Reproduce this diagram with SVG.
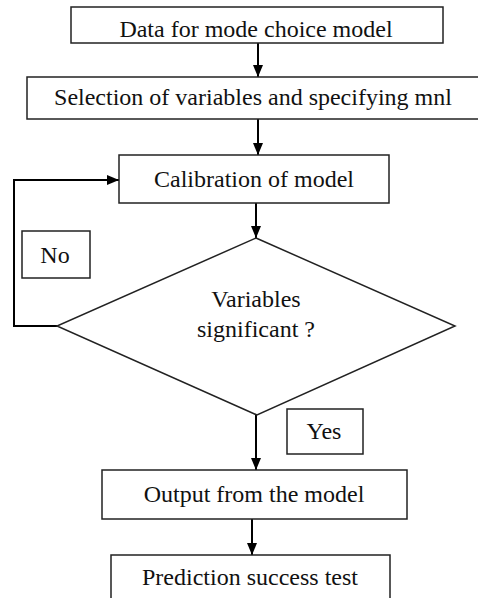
<svg xmlns="http://www.w3.org/2000/svg" width="478" height="598" viewBox="0 0 478 598">
<defs>
<style>
.box{fill:#fff;stroke:#222;stroke-width:1.5}
.t{font-family:"Liberation Serif","Times New Roman",serif;font-size:24px;fill:#111;text-anchor:middle}
.c{fill:none;stroke:#000;stroke-width:2}
</style>
<marker id="ah" markerWidth="12" markerHeight="10" refX="12" refY="5" orient="auto" markerUnits="userSpaceOnUse">
<path d="M0,0 L12,5 L0,10 Z" fill="#000"/>
</marker>
</defs>
<rect width="478" height="598" fill="#fff"/>
<g id="connectors">
<line class="c" x1="258" y1="43" x2="258" y2="77" marker-end="url(#ah)"/>
<line class="c" x1="258" y1="119" x2="258" y2="155" marker-end="url(#ah)"/>
<line class="c" x1="256" y1="203" x2="256" y2="238" marker-end="url(#ah)"/>
<polyline class="c" points="57,326 14,326 14,180 119,180" marker-end="url(#ah)"/>
<line class="c" x1="256" y1="415" x2="256" y2="470" marker-end="url(#ah)"/>
<line class="c" x1="252" y1="519" x2="252" y2="555" marker-end="url(#ah)"/>
</g>
<g id="n1"><rect class="box" x="71" y="7" width="372" height="36"/><text class="t" x="256" y="37">Data for mode choice model</text></g>
<g id="n2"><rect class="box" x="27" y="77" width="452" height="42"/><text class="t" x="253" y="105">Selection of variables and specifying mnl</text></g>
<g id="n3"><rect class="box" x="119" y="155" width="270" height="48"/><text class="t" x="254" y="187">Calibration of model</text></g>
<g id="n4"><polygon class="box" points="256,238 455,326 257,415 57,326"/><text class="t" x="256" y="307">Variables</text><text class="t" x="256" y="337">significant ?</text></g>
<g id="lno"><rect class="box" x="22" y="231" width="68" height="47"/><text class="t" x="55" y="263">No</text></g>
<g id="lyes"><rect class="box" x="287" y="409" width="76" height="45"/><text class="t" x="324" y="439">Yes</text></g>
<g id="n5"><rect class="box" x="102" y="470" width="305" height="49"/><text class="t" x="254" y="502">Output from the model</text></g>
<g id="n6"><rect class="box" x="111" y="555" width="279" height="50"/><text class="t" x="250" y="585">Prediction success test</text></g>
</svg>
